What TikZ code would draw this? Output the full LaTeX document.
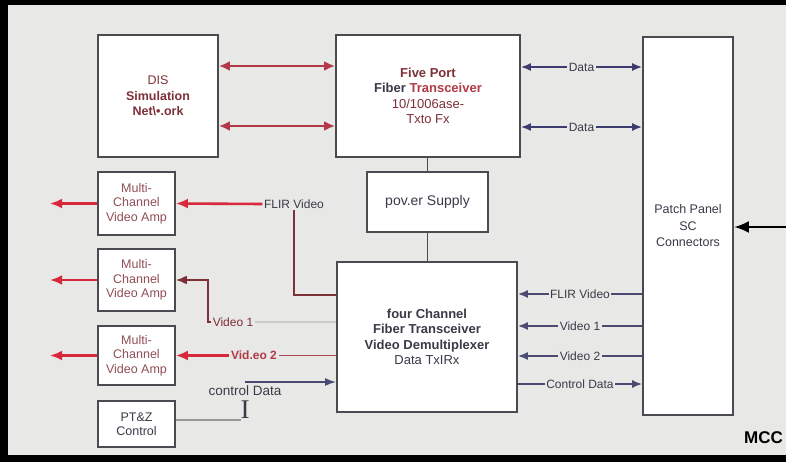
\documentclass[tikz,border=0pt]{standalone}
\usepackage{fontspec}
\setmainfont{Liberation Sans}
\newfontfamily\cursorfont{Liberation Serif}
\usepackage{xcolor}
\usetikzlibrary{arrows.meta,positioning,calc}

\definecolor{bggray}{HTML}{E8E8E6}
\definecolor{boxline}{HTML}{4A4A50}
\definecolor{redarrow}{HTML}{D8283C}
\definecolor{darkred}{HTML}{B23A48}
\definecolor{brownred}{HTML}{7E3038}
\definecolor{navy}{HTML}{3C3C70}
\definecolor{textgray}{HTML}{3A3A48}

\begin{document}
\begin{tikzpicture}[x=1pt, y=-1pt,
  box/.style={draw=boxline, line width=1.8pt, fill=white, inner sep=0pt, align=center,
    font=\fontsize{13}{15.5}\selectfont},
  ampbox/.style={box, minimum width=77pt, text=brownred!85, font=\fontsize{12.5}{14.5}\selectfont},
  lbl/.style={fill=bggray, inner sep=1.5pt, text=textgray, font=\fontsize{12}{13}\selectfont},
  disarr/.style={draw=darkred, line width=2.6pt, {Latex[length=11pt,width=10pt]}-{Latex[length=11pt,width=10pt]}},
  dataarr/.style={draw=navy, line width=1.6pt, {Latex[length=10pt,width=8pt]}-{Latex[length=10pt,width=8pt]}},
  navarr/.style={draw=navy!80!gray, line width=1.6pt},
  redarr/.style={draw=redarrow, line width=2.6pt, -{Latex[length=12pt,width=10pt]}},
  vidline/.style={draw=brownred, line width=1.8pt},
  greyline/.style={draw=gray!80, line width=1.6pt}]

  % Background and frame
  \useasboundingbox (0,0) rectangle (786,462);
  \fill[bggray] (0,0) rectangle (786,462);
  \fill[black] (0,0) rectangle (786,5);
  \fill[black] (0,0) rectangle (8,462);
  \fill[black] (0,455) rectangle (786,462);

  % Define nodes for the boxes
  \node[box, minimum width=120pt, minimum height=122pt, text=brownred,
    font=\fontsize{12.5}{15.5}\selectfont] (DIS) at (158,96)
    {DIS\\\textbf{Simulation}\\\textbf{Net\textbackslash\textbullet.ork}};
  \node[box, minimum width=184pt, minimum height=122pt, text=brownred] (FP) at (428,96)
    {\textbf{Five Port}\\\textbf{\textcolor{textgray}{Fiber} \textcolor{darkred}{Transceiver}}\\10/1006ase-\\Txto Fx};
  \node[box, minimum width=121pt, minimum height=60pt, text=textgray,
    font=\fontsize{14}{16}\selectfont] (PS) at (427.5,202) {pov.er Supply};
  \node[box, minimum width=180pt, minimum height=150pt, text=textgray] (FC) at (427,337)
    {\textbf{four Channel}\\\textbf{Fiber Transceiver}\\\textbf{Video Demultiplexer}\\Data TxIRx};
  \node[box, minimum width=90pt, minimum height=378pt, text=textgray,
    font=\fontsize{12.5}{16.5}\selectfont] (PP) at (688,226) {Patch Panel\\SC\\Connectors};
  \node[ampbox, minimum height=63pt] (A1) at (136.5,203.5) {Multi-\\Channel\\Video Amp};
  \node[ampbox, minimum height=62pt] (A2) at (136.5,280) {Multi-\\Channel\\Video Amp};
  \node[ampbox, minimum height=59pt] (A3) at (136.5,355.5) {Multi-\\Channel\\Video Amp};
  \node[ampbox, minimum height=46pt, text=textgray] (PT) at (136.5,424) {PT\&Z\\Control};

  % Free ends and line levels
  \coordinate (out) at (50,0);
  \coordinate (in) at (786,227);
  \coordinate (d1) at ([yshift=29]FP.east);
  \coordinate (d2) at ([yshift=-31]FP.east);
  \coordinate (v0) at ([yshift=43]FC.east);
  \coordinate (v1) at ([yshift=11]FC.east);
  \coordinate (v2) at ([yshift=-19]FC.east);
  \coordinate (v3) at ([yshift=-47]FC.east);
  \coordinate (f0) at ([yshift=42]FC.west);
  \coordinate (w2) at ([yshift=-18.5]FC.west);
  \coordinate (c0) at (245,382);
  \coordinate (p1) at (241,420);

  % Labels on the left side
  \node[lbl] (FL) at (294,204) {FLIR Video};
  \node[lbl, text=brownred] (V1) at (233,322) {Video 1};
  \node[lbl, text=darkred, font=\bfseries\fontsize{12}{13}\selectfont] (V2) at (254,355.5) {Vid.eo 2};
  \node[lbl, text=textgray, fill=none, font=\fontsize{13.5}{14}\selectfont] (CD) at (245,391) {control Data};
  \node[inner sep=0pt, text=textgray, font=\cursorfont\fontsize{27}{27}\selectfont] (IB) at (245,410) {I};
  \node[anchor=west, inner sep=0pt, font=\bfseries\fontsize{17}{17}\selectfont] (MCC) at (744,438) {MCC};

  % Draw arrows between nodes
  \draw[disarr] ([yshift=30]DIS.east) -- ([yshift=30]FP.west);
  \draw[disarr] ([yshift=-30]DIS.east) -- ([yshift=-30]FP.west);
  \draw[dataarr] (d1) -- node[lbl] {Data} (d1 -| PP.west);
  \draw[dataarr] (d2) -- node[lbl] {Data} (d2 -| PP.west);
  \draw[boxline, line width=1.8pt] (PS.north) -- (PS.north |- FP.south);
  \draw[boxline, line width=1.8pt] (PS.south) -- (PS.south |- FC.north);
  \draw[black, line width=2.6pt, -{Latex[length=15pt,width=12pt]}] (in) -- (in -| PP.east);
  \draw[navarr, {Latex[length=10pt,width=8pt]}-] (v0) -- node[lbl] {FLIR Video} (v0 -| PP.west);
  \draw[navarr, {Latex[length=10pt,width=8pt]}-] (v1) -- node[lbl] {Video 1} (v1 -| PP.west);
  \draw[navarr, {Latex[length=10pt,width=8pt]}-] (v2) -- node[lbl] {Video 2} (v2 -| PP.west);
  \draw[navarr, -{Latex[length=10pt,width=8pt]}] (v3) -- node[lbl] {Control Data} (v3 -| PP.west);
  \draw[redarr] (A1.west) -- (A1.west -| out);
  \draw[redarr] (A2.west) -- (A2.west -| out);
  \draw[redarr] (A3.west) -- (A3.west -| out);
  \draw[vidline] (f0) -| (FL.south);
  \draw[redarr] (FL.west) -- (A1.east);
  \draw[greyline, draw=gray!40] (V1.east) -- (V1.east -| FC.west);
  \draw[vidline, -{Latex[length=11pt,width=9pt]}, draw=brownred] (V1.west) -- ++(-3,0) |- (A2.east);
  \draw[vidline, draw=darkred!80!gray] (w2) -- (V2.east);
  \draw[redarr] (V2.west) -- (A3.east);
  \draw[navarr, -{Latex[length=11pt,width=8pt]}] (c0) -- (c0 -| FC.west);
  \draw[greyline] (p1 -| PT.east) -- (p1);
\end{tikzpicture}
\end{document}
